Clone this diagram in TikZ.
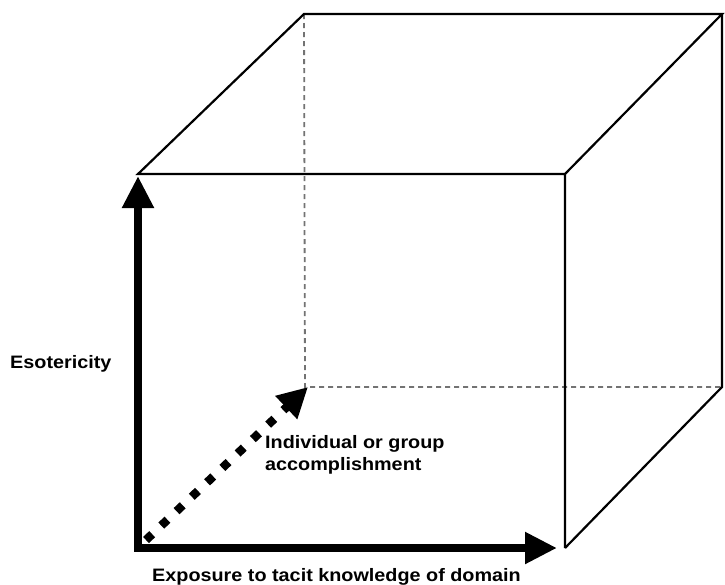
\documentclass[tikz,border=0pt]{standalone}
\usepackage{fontspec}
\usepackage{graphicx}
\setmainfont{Liberation Sans}
\usetikzlibrary{arrows.meta}
\newcommand{\wide}[1]{\scalebox{1.1}[1]{#1}}
\begin{document}
\begin{tikzpicture}[x=1pt,y=-1pt,
  edge/.style={line width=2.2pt, line join=miter},
  hidden/.style={line width=1.8pt, black!55, dash pattern=on 5pt off 4pt},
  axis/.style={line width=8pt, -{Triangle[length=32pt,width=30pt]}},
  depthaxis/.style={line width=8.5pt, dash pattern=on 8.5pt off 12.5pt,
    -{Triangle[length=30pt,width=30pt]}},
  axislabel/.style={font=\bfseries\fontsize{18}{22}\selectfont, inner sep=0pt}]
\useasboundingbox (0,0) rectangle (725,584);

% cube corners: front face and back face
\coordinate (ftl) at (138,174);
\coordinate (ftr) at (565,174);
\coordinate (fbr) at (565,548);
\coordinate (fbl) at (138,548);
\coordinate (btl) at (304,14);
\coordinate (btr) at (722,14);
\coordinate (bbr) at (722,387);
\coordinate (bbl) at (305,387);

% hidden edges
\draw[hidden] (btl) -- (bbl) -- (bbr);

% visible edges
\draw[edge] (fbr) -- (ftr) -- (ftl) -- (btl) -- (btr) -- (ftr);
\draw[edge] (btr) -- (bbr) -- (fbr);

% axes
\coordinate (origin) at (138,548);
\coordinate (xend) at (557,548);
\coordinate (yend) at (138,176);
\coordinate (zstart) at (146,540);
\coordinate (zend) at (308,387);
\draw[axis] ([xshift=-4pt]origin) -- (xend);
\draw[axis] ([yshift=4pt]origin) -- (yend);
\draw[depthaxis] (zstart) -- (zend);

% axis labels
\node[axislabel, anchor=base west] (esot) at (10,368) {\wide{Esotericity}};
\node[axislabel, anchor=base west, align=left] (indiv) at (265,470)
  {\wide{Individual or group}\\\wide{accomplishment}};
\node[axislabel, anchor=base] (expo) at (336.5,581)
  {\wide{Exposure to tacit knowledge of domain}};
\end{tikzpicture}
\end{document}
